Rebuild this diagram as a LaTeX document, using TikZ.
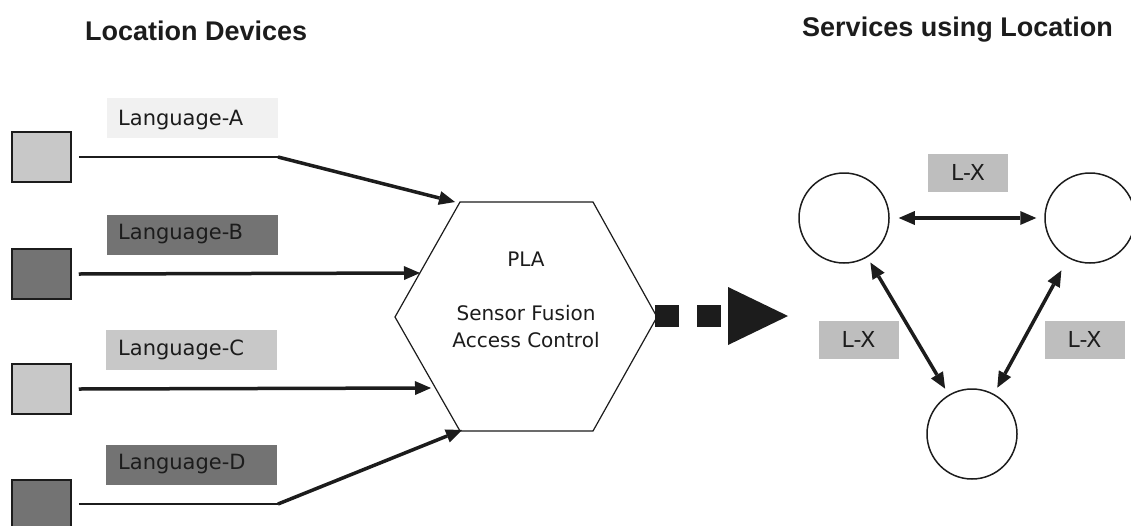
\documentclass[tikz,border=0pt]{standalone}
\usepackage{fontspec}
\setmainfont{DejaVu Sans}
\newfontfamily\titlefont{Liberation Sans}
\usetikzlibrary{arrows.meta}
\definecolor{lightg}{HTML}{C8C8C8}
\definecolor{darkg}{HTML}{737373}
\definecolor{paleg}{HTML}{F1F1F1}
\definecolor{lxg}{HTML}{BEBEBE}
\definecolor{ink}{HTML}{1C1C1C}
\begin{document}
\begin{tikzpicture}[x=1pt,y=-1pt,
  dev/.style={draw=ink, line width=1.5pt, minimum width=59pt, minimum height=50pt, inner sep=0pt},
  langbox/.style={minimum width=171pt, minimum height=40pt, inner sep=0pt},
  langtxt/.style={anchor=west, inner sep=0pt, text=ink, font=\fontsize{21}{25}\selectfont},
  title/.style={inner sep=0pt, text=ink, font=\titlefont\bfseries\fontsize{27}{32}\selectfont},
  hextxt/.style={anchor=base, inner sep=0pt, text=ink, font=\fontsize{20}{26}\selectfont},
  wire/.style={draw=ink, line width=1.5pt},
  feed/.style={draw=ink, line width=3.5pt, -{Triangle[length=16pt,width=14pt,line width=0pt]}},
  duo/.style={draw=ink, line width=3.5pt, {Triangle[length=16pt,width=14pt,line width=0pt]}-{Triangle[length=16pt,width=14pt,line width=0pt]}},
  svc/.style={circle, draw=ink, line width=1.5pt, minimum size=90pt, inner sep=0pt},
  lx/.style={fill=lxg, minimum width=80pt, minimum height=38pt, inner sep=0pt, text=ink, font=\fontsize{22}{26}\selectfont}
]
\useasboundingbox (0,0) rectangle (1131,525);
\clip (0,0) rectangle (1131,525);
\fill[white] (0,0) rectangle (1131,525);

% titles
\node[title, anchor=base west] (t1) at (85,40) {Location Devices};
\node[title, anchor=base east] (t2) at (1113,36) {Services using Location};

% devices
\node[dev, fill=lightg] (dA) at (41.5,157) {};
\node[dev, fill=darkg]  (dB) at (41.5,274) {};
\node[dev, fill=lightg] (dC) at (41.5,389) {};
\node[dev, fill=darkg]  (dD) at (41.5,505) {};

% language labels
\node[langbox, fill=paleg] (bA) at (192,118) {};
\node[langbox, fill=darkg] (bB) at (192,234.5) {};
\node[langbox, fill=lightg] (bC) at (191.5,349.5) {};
\node[langbox, fill=darkg] (bD) at (191.5,464.5) {};
\node[langtxt] (lA) at (118,120) {Language-A};
\node[langtxt] (lB) at (118,234.5) {Language-B};
\node[langtxt] (lC) at (118,349.5) {Language-C};
\node[langtxt] (lD) at (118,464.5) {Language-D};

% hexagon
\coordinate (hL)  at (395,317);
\coordinate (hTL) at (460,202);
\coordinate (hTR) at (593,202);
\coordinate (hR)  at (657,317);
\coordinate (hBR) at (593,431);
\coordinate (hBL) at (460,431);
\draw[draw=ink, line width=1.2pt, fill=white] (hL) -- (hTL) -- (hTR) -- (hR) -- (hBR) -- (hBL) -- cycle;
\node[hextxt] (pla) at (526,266) {PLA};
\node[hextxt] (sf) at (526,320) {Sensor Fusion};
\node[hextxt] (ac) at (526,347) {Access Control};

% connectors into the hexagon
\coordinate (kA) at (278,157);
\coordinate (kD) at (278,504);
\coordinate (eA) at (455,202);
\coordinate (eB) at (420,273);
\coordinate (eC) at (431,388);
\coordinate (eD) at (462,430);
\draw[wire] ([xshift=7pt]dA.east) -- (kA);
\draw[feed] (kA) -- (eA);
\draw[feed] ([xshift=7pt]dB.east) -- (eB);
\draw[feed] ([xshift=7pt]dC.east) -- (eC);
\draw[wire] ([xshift=7pt]dD.east |- kD) -- (kD);
\draw[feed] (kD) -- (eD);

% dotted output arrow
\coordinate (oS) at (655,316);
\coordinate (oE) at (788,316);
\draw[ink, line width=22pt, dash pattern=on 24pt off 18pt,
  -{Triangle[length=60pt,width=58pt,line width=0pt]}] (oS) -- (oE);

% services
\node[svc] (c1) at (844,218) {};
\node[svc] (c2) at (1090,218) {};
\node[svc] (c3) at (972,434) {};
\draw[duo, shorten <=9pt, shorten >=8pt] (c1) -- (c2);
\draw[duo, shorten <=6pt, shorten >=7pt] (c1) -- (c3);
\draw[duo, shorten <=14pt, shorten >=7pt] (c2) -- (c3);
\node[lx] (x1) at (968,172.5) {L-X};
\node[lx] (x2) at (858.5,339.5) {L-X};
\node[lx] (x3) at (1084.5,339.5) {L-X};
\end{tikzpicture}
\end{document}
